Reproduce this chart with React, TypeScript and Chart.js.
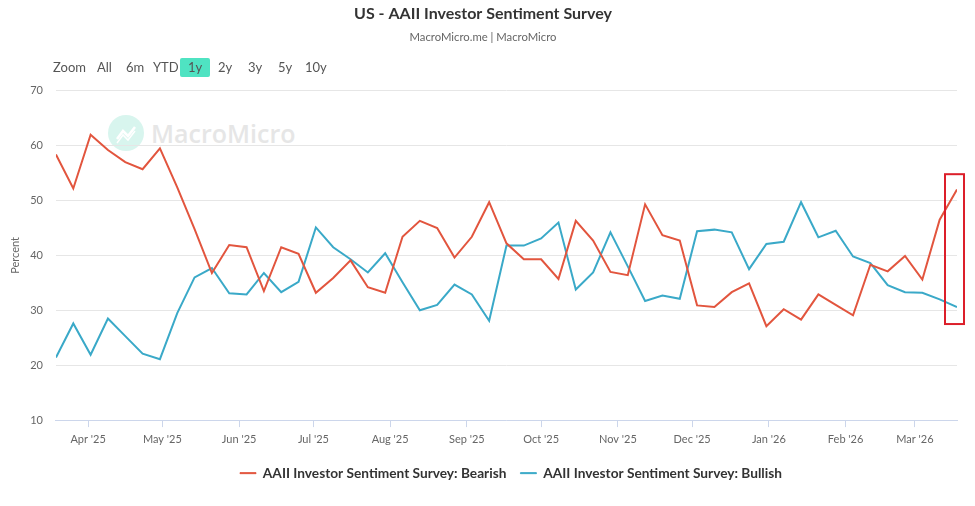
import React, { useEffect, useRef } from "react";
import { Chart, registerables } from "chart.js";

Chart.register(...registerables);

const FONT = "Lato, 'Noto Sans', sans-serif";

const dates = [
  "2025-03-19", "2025-03-26", "2025-04-02", "2025-04-09", "2025-04-16", "2025-04-23", "2025-04-30",
  "2025-05-07", "2025-05-14", "2025-05-21", "2025-05-28", "2025-06-04", "2025-06-11", "2025-06-18",
  "2025-06-25", "2025-07-02", "2025-07-09", "2025-07-16", "2025-07-23", "2025-07-30", "2025-08-06",
  "2025-08-13", "2025-08-20", "2025-08-27", "2025-09-03", "2025-09-10", "2025-09-17", "2025-09-24",
  "2025-10-01", "2025-10-08", "2025-10-15", "2025-10-22", "2025-10-29", "2025-11-05", "2025-11-12",
  "2025-11-19", "2025-11-26", "2025-12-03", "2025-12-10", "2025-12-17", "2025-12-24", "2025-12-31",
  "2026-01-07", "2026-01-14", "2026-01-21", "2026-01-28", "2026-02-04", "2026-02-11", "2026-02-18",
  "2026-02-25", "2026-03-04", "2026-03-11", "2026-03-18",
];

const bearish = [
  58.4, 52.2, 62.0, 59.2, 57.0, 55.7, 59.5, 52.4, 44.8, 36.8, 41.9, 41.5, 33.5, 41.5,
  40.3, 33.2, 35.9, 39.1, 34.2, 33.2, 43.4, 46.3, 45.0, 39.6, 43.4, 49.7, 42.2, 39.3,
  39.3, 35.7, 46.3, 42.7, 37.0, 36.4, 49.3, 43.7, 42.7, 30.9, 30.6, 33.3, 34.9, 27.1,
  30.2, 28.3, 32.9, 31.0, 29.1, 38.3, 37.1, 39.9, 35.6, 46.5, 52.0,
];

const bullish = [
  21.4, 27.6, 21.9, 28.5, 25.3, 22.1, 21.1, 29.5, 36.0, 37.7, 33.1, 32.9, 36.8, 33.3,
  35.2, 45.1, 41.5, 39.3, 36.9, 40.4, 35.1, 30.0, 31.0, 34.7, 32.9, 28.1, 41.8, 41.8,
  43.1, 46.0, 33.8, 36.9, 44.2, 38.0, 31.7, 32.7, 32.1, 44.4, 44.7, 44.2, 37.5, 42.1,
  42.5, 49.7, 43.3, 44.5, 39.8, 38.6, 34.6, 33.3, 33.2, 32.0, 30.6,
];

const monthTickDates = [
  "2025-04-01", "2025-05-01", "2025-06-01", "2025-07-01", "2025-08-01", "2025-09-01",
  "2025-10-01", "2025-11-01", "2025-12-01", "2026-01-01", "2026-02-01", "2026-03-01",
];
const monthTickLabels = [
  "Apr '25", "May '25", "Jun '25", "Jul '25", "Aug '25", "Sep '25",
  "Oct '25", "Nov '25", "Dec '25", "Jan '26", "Feb '26", "Mar '26",
];

const yMin = 10;
const yMax = 70;
const yStep = 10;

const highlightLow = 27.5;
const highlightHigh = 54.8;

const rangeButtons = ["Zoom", "All", "6m", "YTD", "1y", "2y", "3y", "5y", "10y"];
const rangeButtonX = [53, 97, 126, 153, 186, 218, 248, 278, 305];
const activeRange = "1y";

const seriesNames = [
  "AAII Investor Sentiment Survey: Bearish",
  "AAII Investor Sentiment Survey: Bullish",
];
const seriesColors = ["#e2553e", "#3aa9c8"];

const LEGEND_SHIFT = 28;

const toDay = (s: string) => {
  const [y, m, d] = s.split("-").map(Number);
  return Date.UTC(y, m - 1, d) / 86400000;
};

const highlightPlugin = {
  id: "highlightBox",
  afterLayout(chart: any) {
    if (chart.legend) {
      chart.legend.left += LEGEND_SHIFT;
      chart.legend.right += LEGEND_SHIFT;
    }
  },
  afterDatasetsDraw(chart: any) {
    const xs = chart.scales.x;
    const ys = chart.scales.y;
    const xLast = xs.getPixelForValue(toDay(dates[dates.length - 1]));
    const yTop = ys.getPixelForValue(highlightHigh);
    const yBot = ys.getPixelForValue(highlightLow);
    const ctx = chart.ctx;
    ctx.save();
    ctx.strokeStyle = "#dc1f2a";
    ctx.lineWidth = 2;
    ctx.strokeRect(xLast - 12, yTop, 19, yBot - yTop);
    ctx.restore();
  },
};

export default function App() {
  const canvasRef = useRef<HTMLCanvasElement | null>(null);

  useEffect(() => {
    if (!canvasRef.current) return;
    const mk = (vals: number[]) => vals.map((v, i) => ({ x: toDay(dates[i]), y: v }));
    const chart = new Chart(canvasRef.current, {
      type: "line",
      data: {
        datasets: [
          {
            label: seriesNames[0],
            data: mk(bearish),
            borderColor: seriesColors[0],
            backgroundColor: seriesColors[0],
            borderWidth: 2,
            pointRadius: 0,
            tension: 0,
            fill: false,
          },
          {
            label: seriesNames[1],
            data: mk(bullish),
            borderColor: seriesColors[1],
            backgroundColor: seriesColors[1],
            borderWidth: 2,
            pointRadius: 0,
            tension: 0,
            fill: false,
          },
        ],
      },
      options: {
        animation: false,
        responsive: false,
        maintainAspectRatio: false,
        layout: { padding: { left: 9, right: 18, top: 0, bottom: 16 } },
        plugins: {
          title: {
            display: true,
            text: "US - AAII Investor Sentiment Survey",
            color: "#333333",
            font: { family: FONT, size: 16, weight: "bold" },
            padding: { top: 4, bottom: 7 },
          },
          subtitle: {
            display: true,
            text: "MacroMicro.me | MacroMicro",
            color: "#666666",
            font: { family: FONT, size: 11.3 },
            padding: { top: 0, bottom: 47 },
          },
          legend: {
            position: "bottom",
            labels: {
              color: "#333333",
              font: { family: FONT, size: 13.7, weight: "bold" },
              boxWidth: 16,
              boxHeight: 1,
              padding: 14,
              generateLabels: (chart: any) =>
                chart.data.datasets.map((ds: any, i: number) => ({
                  text: ds.label,
                  fillStyle: ds.borderColor,
                  strokeStyle: ds.borderColor,
                  lineWidth: 1,
                  hidden: false,
                  datasetIndex: i,
                  fontColor: "#333333",
                })),
            },
          },
          tooltip: { enabled: false },
        },
        scales: {
          x: {
            type: "linear",
            min: toDay(dates[0]),
            max: toDay(dates[dates.length - 1]),
            afterBuildTicks: (scale: any) => {
              scale.ticks = monthTickDates.map((d) => ({ value: toDay(d) }));
            },
            ticks: {
              autoSkip: false,
              maxRotation: 0,
              color: "#666666",
              font: { family: FONT, size: 11 },
              padding: 6,
              callback: (v: any) => {
                const idx = monthTickDates.findIndex((d) => toDay(d) === v);
                return idx >= 0 ? monthTickLabels[idx] : "";
              },
            },
            grid: { drawOnChartArea: false, drawTicks: true, tickLength: 7, color: "#ccd6eb" },
            border: { display: true, color: "#ccd6eb" },
          },
          y: {
            min: yMin,
            max: yMax,
            ticks: {
              stepSize: yStep,
              color: "#666666",
              font: { family: FONT, size: 11 },
              padding: 13,
            },
            grid: { color: "#e6e6e6", drawTicks: false },
            border: { display: false },
            title: {
              display: true,
              text: "Percent",
              color: "#666666",
              font: { family: FONT, size: 11 },
              padding: { top: 0, bottom: -5 },
            },
          },
        },
      },
      plugins: [highlightPlugin],
    } as any);
    return () => chart.destroy();
  }, []);

  return (
    <div
      style={{
        position: "fixed",
        left: 0,
        top: 0,
        width: 975,
        height: 506,
        background: "#ffffff",
        overflow: "hidden",
        fontFamily: FONT,
      }}
    >
      {/* watermark */}
      <div style={{ position: "absolute", left: 108, top: 115, width: 36, height: 36, borderRadius: 18, background: "#d8f5ee" }}>
        <svg width="36" height="36" viewBox="0 0 36 36">
          <polyline points="9,24 15,16 20,21 27,12" fill="none" stroke="#ffffff" strokeWidth="2.5" />
          <polyline points="9,28 15,20 20,25 27,16" fill="none" stroke="#ffffff" strokeWidth="1.5" />
        </svg>
      </div>
      <div
        style={{
          position: "absolute",
          left: 151,
          top: 116,
          fontSize: 25,
          fontWeight: 600,
          color: "#e6e6e6",
          fontFamily: "'Open Sans', sans-serif",
          lineHeight: "34px",
          whiteSpace: "nowrap",
        }}
      >
        MacroMicro
      </div>
      <canvas ref={canvasRef} width={975} height={506} style={{ position: "absolute", left: 0, top: 0, width: 975, height: 506, display: "block" }} />
      {rangeButtons.map((b, i) => (
        <div
          key={b}
          style={{
            position: "absolute",
            left: b === activeRange ? rangeButtonX[i] - 6 : rangeButtonX[i],
            top: 58,
            height: 19,
            lineHeight: "19px",
            padding: b === activeRange ? "0 8px" : 0,
            fontSize: 13,
            color: "#555555",
            background: b === activeRange ? "#4fe3c2" : "transparent",
            borderRadius: 2,
            whiteSpace: "nowrap",
          }}
        >
          {b}
        </div>
      ))}
    </div>
  );
}
